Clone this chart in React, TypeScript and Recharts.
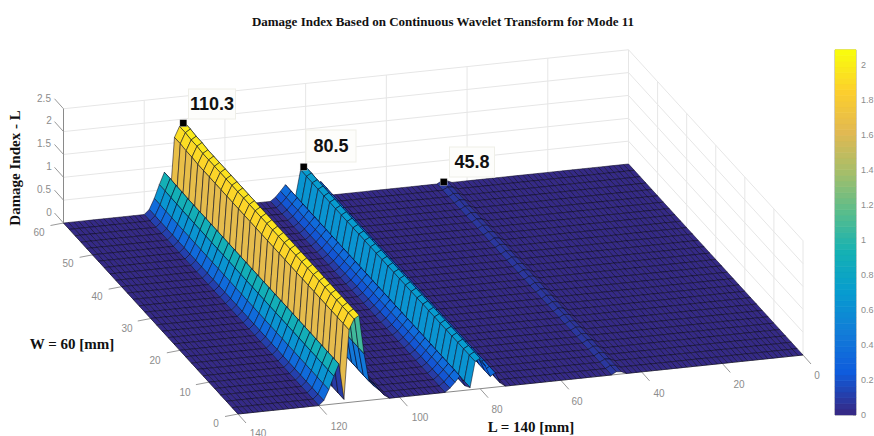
import React from "react";
import { ComposedChart, Scatter, XAxis, YAxis, ReferenceLine } from "recharts";

// ---------- data ----------
const zAtL = [
  0, 0, 0, 0, 0, 0, 0, 0, 0, 0,
  0, 0, 0, 0, 0, 0, 0, 0, 0, 0,
  0, 0, 0, 0, 0, 0, 0, 0, 0, 0,
  0, 0, 0, 0, 0, 0, 0.05, 0.06, 0, 0,
  0, 0, 0, 0, 0, 0, 0, 0, 0, 0,
  0, 0, 0, 0, 0, 0, 0, 0, 0, 0,
  0.08, 0.32, 0.25, 0.5, 0.68, 0.62, 0.05, 0.1, 0.33, 0.2,
  0.08, 0, 0, 0, 0, 0, 0, 0, 0, 0,
  0, 0, 0, 0.08, 0.2, 0.3, 0.42, 1.05, 1.92, 1.85,
  1.62, 0.08, 0.88, 0.62, 0.33, 0.1, 0, 0, 0, 0,
  0, 0, 0, 0, 0, 0, 0, 0, 0, 0,
  0, 0, 0,
];
const wValues = [60, 58, 56, 54, 52, 50, 48, 46, 44, 42, 40, 38, 36, 34, 32, 30, 28, 26, 24, 22, 20, 18, 16, 14, 12, 10, 8, 6, 4, 2, 0];
const wFactor = [1, 1, 0.99, 0.99, 0.98, 0.98, 0.98, 0.98, 0.98, 0.98, 0.98, 0.98, 0.98, 0.98, 0.98, 0.98, 0.98, 0.98, 0.98, 0.98, 0.98, 0.98, 0.98, 0.98, 0.98, 0.98, 0.98, 0.98, 0.98, 0.98, 0.98];
const L_STEP = 1.25;

const peakL = [110.3, 80.5, 45.8];
const peakZ = [1.91, 0.68, 0.03];
const peakText = ["110.3", "80.5", "45.8"];

const zTicks = [0, 0.5, 1, 1.5, 2, 2.5];
const lTicks = [0, 20, 40, 60, 80, 100, 120, 140];
const wTicks = [0, 10, 20, 30, 40, 50, 60];
const cbTicks = [0, 0.2, 0.4, 0.6, 0.8, 1, 1.2, 1.4, 1.6, 1.8, 2];
const CB_MAX = 2.086;
const parula = ["#352a87", "#0f5cdd", "#127dd8", "#079ccf", "#15b1b4", "#59bd8c", "#a5be6a", "#e1b952", "#fcce2e", "#f9fb0e"];

// ---------- projection of the MATLAB view ----------
const project = (L: number, W: number, z: number) => ({
  x: 803 - (565 * L) / 140 - (174.5 * W) / 60,
  y: 355 + (59 * L) / 140 - (191 * W) / 60 - z * 45.7,
});

const hex = (s: string) => [1, 3, 5].map((i) => parseInt(s.slice(i, i + 2), 16));
const colorAt = (t: number) => {
  const c = Math.max(0, Math.min(0.9999, t)) * (parula.length - 1);
  const i = Math.floor(c);
  const a = hex(parula[i]);
  const b = hex(parula[i + 1]);
  const m = a.map((v, k) => Math.round(v + (b[k] - v) * (c - i)));
  return `rgb(${m[0]},${m[1]},${m[2]})`;
};

type Quad = { x: number; y: number; pts: { x: number; y: number }[]; fill: string; edge?: boolean };

const makeQuad = (pts: { x: number; y: number }[], fill: string, edge: boolean): Quad => ({
  x: pts.reduce((s, p) => s + p.x, 0) / 4,
  y: pts.reduce((s, p) => s + p.y, 0) / 4,
  pts,
  fill,
  edge,
});

const surface: Quad[] = [];
for (let i = 0; i < zAtL.length - 1; i++) {
  for (let j = 0; j < wValues.length - 1; j++) {
    const L0 = i * L_STEP;
    const L1 = (i + 1) * L_STEP;
    const W0 = wValues[j];
    const W1 = wValues[j + 1];
    const pts = [
      project(L0, W0, zAtL[i] * wFactor[j]),
      project(L1, W0, zAtL[i + 1] * wFactor[j]),
      project(L1, W1, zAtL[i + 1] * wFactor[j + 1]),
      project(L0, W1, zAtL[i] * wFactor[j + 1]),
    ];
    surface.push(makeQuad(pts, colorAt((zAtL[i] * wFactor[j]) / 2.0), true));
  }
}

const colorbar: Quad[] = [];
const CB = { x0: 835, x1: 856, y0: 415, perUnit: 175 };
for (let k = 0; k < 64; k++) {
  const a = (k / 64) * CB_MAX;
  const b = ((k + 1) / 64) * CB_MAX;
  colorbar.push(
    makeQuad(
      [
        { x: CB.x0, y: CB.y0 - a * CB.perUnit },
        { x: CB.x1, y: CB.y0 - a * CB.perUnit },
        { x: CB.x1, y: CB.y0 - b * CB.perUnit + 0.5 * 0 - 0.4 },
        { x: CB.x0, y: CB.y0 - b * CB.perUnit - 0.4 },
      ],
      colorAt(k / 63),
      false
    )
  );
}

type Seg = { a: { x: number; y: number }; b: { x: number; y: number }; c: string; w?: number };
const wallGrid: Seg[] = [];
const GRID = "#e6e6e6";
zTicks.slice(1).forEach((z) => {
  wallGrid.push({ a: project(140, 60, z), b: project(0, 60, z), c: GRID });
  wallGrid.push({ a: project(0, 60, z), b: project(0, 0, z), c: GRID });
});
lTicks.slice(0, -1).forEach((L) => wallGrid.push({ a: project(L, 60, 0), b: project(L, 60, 2.5), c: GRID }));
wTicks.slice(0, -1).forEach((W) => wallGrid.push({ a: project(0, W, 0), b: project(0, W, 2.5), c: GRID }));
wallGrid.push({ a: project(140, 0, 0), b: project(0, 0, 0), c: "#8a8a8a", w: 1 });
wallGrid.push({ a: project(140, 60, 0), b: project(140, 0, 0), c: "#8a8a8a", w: 1 });
wallGrid.push({ a: project(140, 60, 0), b: project(140, 60, 2.5), c: "#8a8a8a", w: 1 });

const TICK = "#9a9a9a";
const off = (p: { x: number; y: number }, dx: number, dy: number) => ({ x: p.x + dx, y: p.y + dy });
zTicks.forEach((z) => {
  const p = project(140, 60, z);
  wallGrid.push({ a: p, b: off(p, -9, -10), c: TICK, w: 1 });
});
wTicks.forEach((W) => {
  const p = project(140, W, 0);
  wallGrid.push({ a: p, b: off(p, -13, 2.5), c: TICK, w: 1 });
});
lTicks.forEach((L) => {
  const p = project(L, 0, 0);
  wallGrid.push({ a: p, b: off(p, 8, 9), c: TICK, w: 1 });
});
cbTicks.forEach((v) => {
  const y = CB.y0 - v * CB.perUnit;
  wallGrid.push({ a: { x: CB.x1 - 3, y }, b: { x: CB.x1, y }, c: "#777", w: 0.8 });
});
const cbTop = CB.y0 - CB_MAX * CB.perUnit;
const cbFrame: Seg[] = [
  { a: { x: CB.x0, y: CB.y0 }, b: { x: CB.x1, y: CB.y0 }, c: "#8a8a8a", w: 0.8 },
  { a: { x: CB.x1, y: CB.y0 }, b: { x: CB.x1, y: cbTop }, c: "#8a8a8a", w: 0.8 },
  { a: { x: CB.x1, y: cbTop }, b: { x: CB.x0, y: cbTop }, c: "#8a8a8a", w: 0.8 },
  { a: { x: CB.x0, y: cbTop }, b: { x: CB.x0, y: CB.y0 }, c: "#8a8a8a", w: 0.8 },
];

type Label = { x: number; y: number; text: string; size: number; font: string; bold?: boolean; fill: string; rotate?: number; anchor?: string };
const SERIF = "'Liberation Serif', serif";
const SANS = "'Liberation Sans', sans-serif";
const zLabelPos = [[49, 212], [44, 189], [49, 166], [44, 143], [49, 120], [44, 98]];
const wLabelPos = [[216, 423], [185, 392], [155, 360], [127, 328], [97, 296], [68, 263], [39, 232]];
const lLabelPos = [[817, 375], [739, 384], [659, 393], [577, 401], [497, 409], [420, 417], [339, 426], [258, 433]];
const GREY = "#8c8c8c";
const labels: Label[] = [
  { x: 443, y: 21, text: "Damage Index Based on Continuous Wavelet Transform for Mode 11", size: 13, font: SERIF, bold: true, fill: "#111" },
  { x: 15, y: 168, text: "Damage Index - L", size: 15, font: SERIF, bold: true, fill: "#111", rotate: -90 },
  { x: 72, y: 344, text: "W = 60 [mm]", size: 15, font: SERIF, bold: true, fill: "#111" },
  { x: 531, y: 427, text: "L = 140 [mm]", size: 15, font: SERIF, bold: true, fill: "#111" },
  ...zTicks.map((z, i) => ({ x: zLabelPos[i][0], y: zLabelPos[i][1], text: String(z), size: 10, font: SANS, fill: GREY })),
  ...wTicks.map((w, i) => ({ x: wLabelPos[i][0], y: wLabelPos[i][1], text: String(w), size: 10, font: SANS, fill: GREY })),
  ...lTicks.map((l, i) => ({ x: lLabelPos[i][0], y: lLabelPos[i][1], text: String(l), size: 10, font: SANS, fill: GREY })),
  ...cbTicks.map((v) => ({ x: 861, y: CB.y0 - v * CB.perUnit, text: String(v), size: 9, font: SANS, fill: GREY, anchor: "start" })),
];

const boxes = [
  { x: 212, y: 104, w: 47, h: 30 },
  { x: 331, y: 146, w: 50, h: 32 },
  { x: 472, y: 162, w: 45, h: 30 },
];
const tips = peakL.map((L, i) => {
  const p = project(L, 60, peakZ[i]);
  return { x: p.x, y: p.y, bx: boxes[i].x, by: boxes[i].y, w: boxes[i].w, h: boxes[i].h, text: peakText[i] };
});

// ---------- shapes ----------
const QuadShape = (props: any) => {
  const q: Quad = props.payload;
  const cx = props.cx;
  const cy = props.cy;
  const d = q.pts.map((p, i) => `${i ? "L" : "M"}${(cx + p.x - q.x).toFixed(2)} ${(cy + p.y - q.y).toFixed(2)}`).join("") + "Z";
  return <path d={d} fill={q.fill} stroke={q.edge ? "#0a0820" : q.fill} strokeWidth={q.edge ? 0.55 : 0.3} strokeLinejoin="round" />;
};
const LabelShape = (props: any) => {
  const t: Label = props.payload;
  return (
    <text
      x={props.cx}
      y={props.cy}
      fontFamily={t.font}
      fontSize={t.size}
      fontWeight={t.bold ? 700 : 400}
      fill={t.fill}
      textAnchor={(t.anchor as any) ?? "middle"}
      dominantBaseline="central"
      transform={t.rotate ? `rotate(${t.rotate} ${props.cx} ${props.cy})` : undefined}
    >
      {t.text}
    </text>
  );
};
const TipBoxShape = (props: any) => {
  const p = props.payload;
  return (
    <g>
      <rect x={props.cx - p.w / 2} y={props.cy - p.h / 2} width={p.w} height={p.h} fill="#fdfdfb" stroke="#efefe8" strokeWidth={1} />
      <text x={props.cx} y={props.cy} fontFamily={SANS} fontSize={18} fontWeight={700} fill="#111" textAnchor="middle" dominantBaseline="central">
        {p.text}
      </text>
    </g>
  );
};
const MarkerShape = (props: any) => (
  <rect x={props.cx - 3.5} y={props.cy - 3.5} width={7} height={7} fill="#000" stroke="#ddd" strokeWidth={0.4} />
);

const seg = (s: Seg, k: string) => (
  <ReferenceLine
    key={k}
    segment={[
      { x: s.a.x, y: s.a.y },
      { x: s.b.x, y: s.b.y },
    ]}
    stroke={s.c}
    strokeWidth={s.w ?? 1}
    ifOverflow="visible"
  />
);

export default function App() {
  return (
    <div style={{ position: "absolute", left: 0, top: 0, width: 874, height: 436, background: "#fff" }}>
      <ComposedChart width={874} height={436} margin={{ top: 0, right: 0, bottom: 0, left: 0 }}>
        <XAxis type="number" dataKey="x" domain={[0, 874]} hide allowDataOverflow />
        <YAxis type="number" dataKey="y" domain={[0, 436]} reversed hide allowDataOverflow />
        {wallGrid.map((s, i) => seg(s, `g${i}`))}
        <Scatter data={surface} shape={QuadShape} isAnimationActive={false} />
        <Scatter data={colorbar} shape={QuadShape} isAnimationActive={false} />
        {cbFrame.map((s, i) => seg(s, `f${i}`))}
        <Scatter data={labels} shape={LabelShape} isAnimationActive={false} />
        <Scatter data={tips.map((t) => ({ ...t, x: t.bx, y: t.by }))} shape={TipBoxShape} isAnimationActive={false} />
        <Scatter data={tips} shape={MarkerShape} isAnimationActive={false} />
      </ComposedChart>
    </div>
  );
}
